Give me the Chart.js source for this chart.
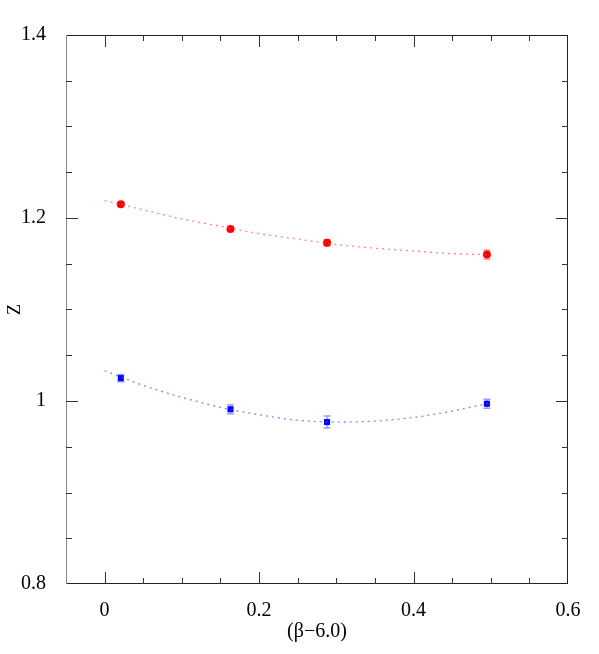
<!DOCTYPE html>
<html>
<head>
    <title>Z vs beta</title>
    <style>
        body { margin: 0; padding: 0; background: #fff; }
        #wrap { width: 599px; height: 654px; }
    </style>
    <script src="https://cdn.jsdelivr.net/npm/chart.js"></script>
</head>
<body>
    <div id="wrap"><canvas id="zChart" width="599" height="654"></canvas></div>

    <script>
        // measured points (x = beta - 6.0)
        const betaX = [0.021, 0.163, 0.288, 0.495];
        const zRed = [1.215, 1.188, 1.173, 1.160];
        const errRed = [0.002, 0.002, 0.0035, 0.005];
        const zBlue = [1.025, 0.991, 0.977, 0.997];
        const errBlue = [0.004, 0.005, 0.0065, 0.005];

        // fit curves
        const fitX = [0, 0.05, 0.1, 0.15, 0.2, 0.25, 0.3, 0.35, 0.4, 0.45, 0.5];
        const fitRed = [1.219, 1.209, 1.199, 1.191, 1.183, 1.177, 1.171, 1.167, 1.164, 1.161, 1.160];
        const fitBlue = [1.033, 1.017, 1.004, 0.993, 0.985, 0.979, 0.977, 0.978, 0.982, 0.989, 0.998];

        const xMajor = [0, 0.2, 0.4, 0.6];
        const yMajor = [0.8, 1.0, 1.2, 1.4];

        const serif = "'Liberation Serif', 'DejaVu Serif', serif";

        function pts(xs, ys) {
            return xs.map((x, i) => ({ x: x, y: ys[i] }));
        }
        function isMajor(v, list) {
            return list.some(m => Math.abs(m - v) < 1e-6);
        }

        // frame with inward ticks on all four sides
        const framePlugin = {
            id: "frame",
            afterDraw(chart) {
                const { ctx, chartArea: a, scales } = chart;
                ctx.save();
                ctx.lineWidth = 1;
                ctx.strokeStyle = "#222";
                ctx.beginPath();
                ctx.moveTo(a.left, a.top + 0.5); ctx.lineTo(a.right, a.top + 0.5);
                ctx.moveTo(a.right - 0.5, a.top); ctx.lineTo(a.right - 0.5, a.bottom);
                ctx.moveTo(a.left, a.bottom - 0.5); ctx.lineTo(a.right, a.bottom - 0.5);
                ctx.stroke();
                ctx.strokeStyle = "#888";
                ctx.beginPath();
                ctx.moveTo(a.left + 0.5, a.top); ctx.lineTo(a.left + 0.5, a.bottom);
                ctx.stroke();

                ctx.strokeStyle = "#333";
                ctx.beginPath();
                for (let v = 0; v <= 0.55 + 1e-9; v += 0.05) {
                    const px = Math.round(scales.x.getPixelForValue(v)) + 0.5;
                    const len = isMajor(v, xMajor) ? 12 : 6;
                    ctx.moveTo(px, a.bottom); ctx.lineTo(px, a.bottom - len);
                    ctx.moveTo(px, a.top); ctx.lineTo(px, a.top + len);
                }
                for (let v = 0.85; v <= 1.35 + 1e-9; v += 0.05) {
                    const py = Math.round(scales.y.getPixelForValue(v)) + 0.5;
                    const len = isMajor(v, yMajor) ? 12 : 6;
                    ctx.moveTo(a.left, py); ctx.lineTo(a.left + len, py);
                    ctx.moveTo(a.right, py); ctx.lineTo(a.right - len, py);
                }
                ctx.stroke();
                ctx.restore();
            }
        };

        // error bars drawn under the markers
        const errorBarPlugin = {
            id: "errorBars",
            beforeDatasetsDraw(chart) {
                const { ctx, scales } = chart;
                const sets = [[zRed, errRed, "rgba(255,90,90,0.6)"], [zBlue, errBlue, "rgba(90,90,255,0.6)"]];
                ctx.save();
                ctx.lineWidth = 1.5;
                sets.forEach(([ys, es, col]) => {
                    ctx.strokeStyle = col;
                    ctx.beginPath();
                    betaX.forEach((x, i) => {
                        const px = scales.x.getPixelForValue(x);
                        const top = scales.y.getPixelForValue(ys[i] + es[i]);
                        const bot = scales.y.getPixelForValue(ys[i] - es[i]);
                        ctx.moveTo(px, top); ctx.lineTo(px, bot);
                        ctx.moveTo(px - 3.5, top); ctx.lineTo(px + 3.5, top);
                        ctx.moveTo(px - 3.5, bot); ctx.lineTo(px + 3.5, bot);
                    });
                    ctx.stroke();
                });
                ctx.restore();
            }
        };

        const tickLabel = function (value) {
            const list = this.axis === "x" ? xMajor : yMajor;
            if (!isMajor(value, list)) return "";
            return String(Math.round(value * 10) / 10);
        };

        new Chart(document.getElementById("zChart"), {
            type: "scatter",
            data: {
                datasets: [
                    {
                        data: pts(fitX, fitRed), showLine: true, pointRadius: 0,
                        borderColor: "rgba(255,80,80,0.7)", borderWidth: 1.3, borderDash: [2, 4],
                        cubicInterpolationMode: "monotone"
                    },
                    {
                        data: pts(fitX, fitBlue), showLine: true, pointRadius: 0,
                        borderColor: "rgba(80,80,255,0.7)", borderWidth: 1.3, borderDash: [2, 4],
                        cubicInterpolationMode: "monotone"
                    },
                    {
                        data: pts(betaX, zRed), pointStyle: "circle", pointRadius: 4,
                        backgroundColor: "#ff0000", borderColor: "#ff0000", borderWidth: 0
                    },
                    {
                        data: pts(betaX, zBlue), pointStyle: "rect", pointRadius: 4.3,
                        backgroundColor: "#0000ff", borderColor: "#0000ff", borderWidth: 0
                    }
                ]
            },
            options: {
                responsive: false,
                animation: false,
                layout: { padding: { top: 35, right: 31, left: 0, bottom: 0 } },
                plugins: { legend: { display: false }, tooltip: { enabled: false } },
                scales: {
                    x: {
                        type: "linear", min: -0.05, max: 0.6,
                        afterBuildTicks(scale) {
                            scale.ticks = xMajor.map(v => ({ value: v }));
                        },
                        afterFit(scale) { scale.height = 70; },
                        grid: { display: false }, border: { display: false },
                        ticks: { callback: tickLabel, color: "#000", padding: 7, maxRotation: 0,
                                 font: { family: serif, size: 20 } },
                        title: { display: true, text: "(\u03B2\u22126.0)", color: "#000",
                                 font: { family: serif, size: 20 }, padding: { top: 0, bottom: 10 } }
                    },
                    y: {
                        type: "linear", min: 0.8, max: 1.4,
                        afterBuildTicks(scale) {
                            scale.ticks = yMajor.map(v => ({ value: v }));
                        },
                        afterFit(scale) { scale.width = 66; },
                        grid: { display: false }, border: { display: false },
                        ticks: { callback: tickLabel, color: "#000", padding: 12,
                                 font: { family: serif, size: 20 } },
                        title: { display: true, text: "Z", color: "#000",
                                 font: { family: serif, size: 18 }, padding: { top: 4, bottom: 4 } }
                    }
                }
            },
            plugins: [errorBarPlugin, framePlugin]
        });
    </script>
</body>
</html>
